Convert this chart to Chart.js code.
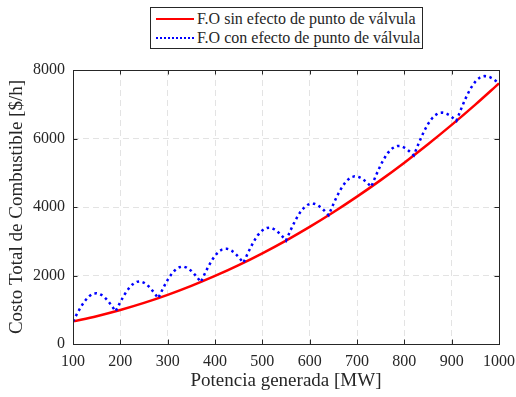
<!DOCTYPE html>
<html>
<head>
<meta charset="utf-8">
<script src="https://cdn.jsdelivr.net/npm/chart.js@4.4.1/dist/chart.umd.min.js"></script>
<style>
  body { margin: 0; background: #fff; }
  #wrap { position: relative; width: 516px; height: 397px; }
  #leyenda {
    position: absolute; left: 150px; top: 7px; width: 271px; height: 40px;
    border: 1px solid #262626; background: #fff;
    font-family: "Liberation Serif", "Times New Roman", serif; font-size: 16px; color: #262626;
  }
  .fila { position: absolute; left: 0; height: 20px; line-height: 20px; white-space: nowrap; }
  .muestra { position: absolute; left: 5px; width: 38px; top: 9px; }
  .texto { position: absolute; left: 46px; top: 0; }
</style>
</head>
<body>
<div id="wrap">
  <canvas id="grafica" width="516" height="397"></canvas>
  <div id="leyenda">
    <div class="fila" style="top:1px"><div class="muestra" style="border-top:2.5px solid #ff0000"></div><span class="texto">F.O sin efecto de punto de válvula</span></div>
    <div class="fila" style="top:20px"><div class="muestra" style="border-top:2.5px dotted #0000ff"></div><span class="texto">F.O con efecto de punto de válvula</span></div>
  </div>
</div>
<script>
// Curva sin efecto de punto de válvula (cada 50 MW)
const potenciaSin = [100, 150, 200, 250, 300, 350, 400, 450, 500, 550, 600, 650, 700, 750, 800, 850, 900, 950, 1000];
const costoSin = [660, 812, 992, 1199, 1434, 1696, 1986, 2303, 2648, 3020, 3420, 3847, 4302, 4785, 5295, 5832, 6397, 6990, 7610];

// Curva con efecto de punto de válvula (cada 5 MW)
const potenciaCon = [
  100, 105, 110, 115, 120, 125, 130, 135, 140, 145, 150, 155, 160, 165, 170, 175, 180, 185,
  190, 195, 200, 205, 210, 215, 220, 225, 230, 235, 240, 245, 250, 255, 260, 265, 270, 275,
  280, 285, 290, 295, 300, 305, 310, 315, 320, 325, 330, 335, 340, 345, 350, 355, 360, 365,
  370, 375, 380, 385, 390, 395, 400, 405, 410, 415, 420, 425, 430, 435, 440, 445, 450, 455,
  460, 465, 470, 475, 480, 485, 490, 495, 500, 505, 510, 515, 520, 525, 530, 535, 540, 545,
  550, 555, 560, 565, 570, 575, 580, 585, 590, 595, 600, 605, 610, 615, 620, 625, 630, 635,
  640, 645, 650, 655, 660, 665, 670, 675, 680, 685, 690, 695, 700, 705, 710, 715, 720, 725,
  730, 735, 740, 745, 750, 755, 760, 765, 770, 775, 780, 785, 790, 795, 800, 805, 810, 815,
  820, 825, 830, 835, 840, 845, 850, 855, 860, 865, 870, 875, 880, 885, 890, 895, 900, 905,
  910, 915, 920, 925, 930, 935, 940, 945, 950, 955, 960, 965, 970, 975, 980, 985, 990, 995,
  1000
];
const costoCon = [
  660, 792, 921, 1043, 1155, 1254, 1337, 1403, 1450, 1476, 1482, 1468, 1435, 1384, 1318, 1239, 1150, 1053,
  954, 1091, 1225, 1351, 1468, 1572, 1660, 1731, 1783, 1814, 1825, 1816, 1788, 1742, 1681, 1606, 1523, 1431,
  1336, 1478, 1618, 1749, 1871, 1980, 2073, 2148, 2205, 2241, 2258, 2253, 2230, 2189, 2133, 2064, 1985, 1898,
  1808, 1955, 2099, 2236, 2363, 2476, 2575, 2655, 2717, 2758, 2779, 2780, 2762, 2726, 2674, 2610, 2536, 2454,
  2370, 2521, 2671, 2812, 2944, 3062, 3166, 3251, 3318, 3364, 3390, 3396, 3382, 3351, 3305, 3246, 3176, 3100,
  3020, 3177, 3331, 3477, 3614, 3738, 3846, 3936, 4008, 4059, 4090, 4100, 4092, 4066, 4025, 3970, 3906, 3834,
  3760, 3921, 4080, 4232, 4373, 4502, 4615, 4710, 4787, 4843, 4879, 4895, 4891, 4870, 4834, 4784, 4725, 4658,
  4588, 4755, 4919, 5075, 5222, 5356, 5474, 5574, 5655, 5716, 5757, 5778, 5780, 5764, 5732, 5687, 5633, 5571,
  5506, 5678, 5847, 6008, 6160, 6298, 6421, 6527, 6613, 6679, 6725, 6750, 6757, 6746, 6719, 6680, 6630, 6573,
  6514, 6690, 6864, 7030, 7187, 7330, 7458, 7568, 7660, 7731, 7782, 7812, 7824, 7818, 7796, 7761, 7717, 7665,
  7610
];

const ticksX = [100, 200, 300, 400, 500, 600, 700, 800, 900, 1000];
const ticksY = [0, 2000, 4000, 6000, 8000];

const fuente = "'Liberation Serif', 'Times New Roman', serif";
const colorTexto = '#262626';
Chart.defaults.font.family = fuente;

// Caja y marcas hacia adentro (estilo MATLAB)
const cajaEjes = {
  id: 'cajaEjes',
  beforeDraw(chart) {
    const ctx = chart.ctx;
    ctx.save();
    ctx.fillStyle = '#fff';
    ctx.fillRect(0, 0, chart.width, chart.height);
    ctx.restore();
  },
  afterDraw(chart) {
    const { ctx, chartArea: a } = chart;
    const sx = chart.scales.x, sy = chart.scales.y;
    const largo = 4.5;
    ctx.save();
    ctx.strokeStyle = colorTexto;
    ctx.lineWidth = 1;
    ctx.beginPath();
    ticksX.forEach(v => {
      const px = Math.round(sx.getPixelForValue(v)) + 0.5;
      ctx.moveTo(px, a.bottom); ctx.lineTo(px, a.bottom - largo);
      ctx.moveTo(px, a.top); ctx.lineTo(px, a.top + largo);
    });
    ticksY.forEach(v => {
      const py = Math.round(sy.getPixelForValue(v)) + 0.5;
      ctx.moveTo(a.left, py); ctx.lineTo(a.left + largo, py);
      ctx.moveTo(a.right, py); ctx.lineTo(a.right - largo, py);
    });
    ctx.stroke();
    ctx.strokeRect(Math.round(a.left) + 0.5, Math.round(a.top) + 0.5, Math.round(a.right - a.left), Math.round(a.bottom - a.top));
    ctx.restore();
  }
};

const ctx = document.getElementById('grafica').getContext('2d');
new Chart(ctx, {
  type: 'line',
  data: {
    datasets: [
      {
        label: 'F.O sin efecto de punto de válvula',
        data: potenciaSin.map((p, i) => ({ x: p, y: costoSin[i] })),
        borderColor: '#ff0000',
        borderWidth: 2.5,
        pointRadius: 0,
        cubicInterpolationMode: 'monotone',
        order: 1
      },
      {
        label: 'F.O con efecto de punto de válvula',
        data: potenciaCon.map((p, i) => ({ x: p, y: costoCon[i] })),
        borderColor: '#0000ff',
        borderWidth: 2.5,
        borderDash: [2.5, 3.5],
        pointRadius: 0,
        tension: 0,
        order: 0
      }
    ]
  },
  options: {
    responsive: false,
    animation: false,
    layout: { padding: { top: 70, right: 17, bottom: 0, left: 0 } },
    plugins: { legend: { display: false }, tooltip: { enabled: false } },
    scales: {
      x: {
        type: 'linear',
        min: 100, max: 1000,
        afterFit: s => { s.height = 53; s.paddingRight = 0; s.paddingLeft = 0; },
        afterBuildTicks: s => { s.ticks = ticksX.map(v => ({ value: v })); },
        grid: { color: '#e3e3e3', drawTicks: false, lineWidth: 1 },
        border: { display: false, dash: [6, 4] },
        ticks: { font: { family: fuente, size: 16 }, color: colorTexto, padding: 8, maxRotation: 0, callback: v => String(v) },
        title: { display: true, text: 'Potencia generada [MW]', font: { family: fuente, size: 19 }, color: colorTexto, padding: { top: 0, bottom: 5 } }
      },
      y: {
        min: 0, max: 8000,
        afterFit: s => { s.width = 73; },
        afterBuildTicks: s => { s.ticks = ticksY.map(v => ({ value: v })); },
        grid: { color: '#e3e3e3', drawTicks: false, lineWidth: 1 },
        border: { display: false, dash: [6, 4] },
        ticks: { font: { family: fuente, size: 16 }, color: colorTexto, padding: 8, callback: v => String(v) },
        title: { display: true, text: 'Costo Total de Combustible [$/h]', font: { family: fuente, size: 19 }, color: colorTexto, padding: { top: 6, bottom: 0 } }
      }
    }
  },
  plugins: [cajaEjes]
});
</script>
</body>
</html>
